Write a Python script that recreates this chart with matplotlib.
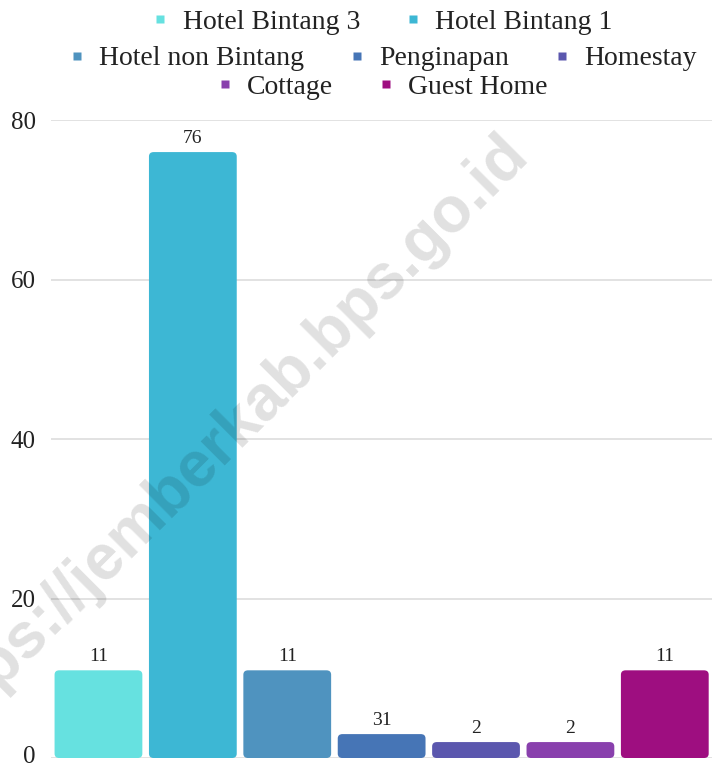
import matplotlib
matplotlib.use("Agg")
import matplotlib.pyplot as plt
import matplotlib.transforms as mtransforms
from matplotlib.lines import Line2D
from matplotlib.patches import FancyBboxPatch

categories = ["Hotel Bintang 3", "Hotel Bintang 1", "Hotel non Bintang", "Penginapan",
              "Homestay", "Cottage", "Guest Home"]
values = [11, 76, 11, 3, 2, 2, 11]
value_labels = ["11", "76", "11", "31", "2", "2", "11"]
colors = ["#66e1e0", "#3db7d4", "#4f93bf", "#4675b6", "#5b57ae", "#8940ad", "#9e0e80"]
yticks = [0, 20, 40, 60, 80]

plt.rcParams['font.family'] = ['Liberation Serif', 'DejaVu Serif']

fig = plt.figure(figsize=(7.12, 7.68), dpi=100)
ax = fig.add_axes([0.072, 0.013, 0.928, 0.8305])

x = list(range(len(categories)))
bars = ax.bar(x, values, width=0.93, color=colors, zorder=2)
for b, c in zip(bars, colors):
    b.set_visible(False)
    p = FancyBboxPatch((b.get_x(), b.get_y()), b.get_width(), b.get_height(),
                       boxstyle="round,pad=0,rounding_size=0.05", mutation_aspect=11,
                       facecolor=c, edgecolor='none', zorder=2)
    ax.add_patch(p)

for xi, v, lab in zip(x, values, value_labels):
    ax.annotate(lab, (xi, v), xytext=(0, 3.5), textcoords='offset points',
                ha='center', va='bottom', fontsize=14, color='#222222')

ax.set_xlim(-0.5, len(categories) - 0.5)
ax.set_ylim(0, 80)
ax.set_yticks(yticks)
ax.set_yticklabels([str(t) for t in yticks], fontsize=18, color='#222222')
ax.set_xticks([])
ax.tick_params(axis='y', length=0, pad=11)
# nudge the lowest tick label up a little so it stays inside the figure
lowest = ax.get_yticklabels()[0]
lowest.set_transform(lowest.get_transform() +
                     mtransforms.ScaledTranslation(0, 2.5 / 72, fig.dpi_scale_trans))
ax.grid(axis='y', color='#dddddd', linewidth=1.2, zorder=0)
for s in ax.spines.values():
    s.set_visible(False)

handles = [Line2D([], [], marker='s', linestyle='none', markersize=6,
                  markerfacecolor=c, markeredgecolor='none') for c in colors]
rows = [(0, 2), (2, 5), (5, 7)]
row_y = [1.009, 0.962, 0.925]
for (a, b_), yy in zip(rows, row_y):
    leg = fig.legend(handles[a:b_], categories[a:b_], loc='upper center',
                     bbox_to_anchor=(0.535, yy), ncol=b_ - a, frameon=False,
                     fontsize=20, handletextpad=0.4, columnspacing=1.5,
                     borderpad=0.1, handlelength=0.8)
    for t in leg.get_texts():
        t.set_color('#222222')

fig.text(0.7444, 0.797, "https://jemberkab.bps.go.id", rotation=45,
         rotation_mode='anchor', fontsize=46, fontweight='bold',
         family='Liberation Sans', color='black', alpha=0.12,
         ha='right', va='baseline', zorder=10)

fig.savefig("out.png", dpi=100)
